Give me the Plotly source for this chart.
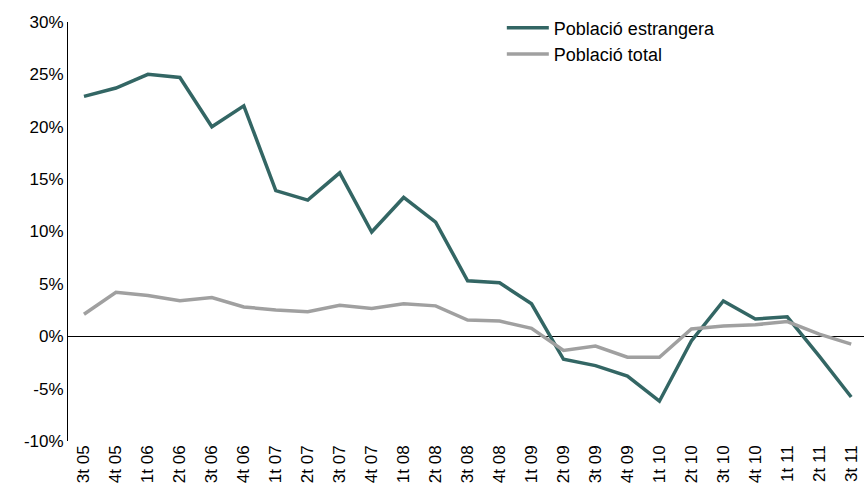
import plotly.graph_objects as go

categories = ["3t 05", "4t 05", "1t 06", "2t 06", "3t 06", "4t 06", "1t 07", "2t 07", "3t 07", "4t 07",
              "1t 08", "2t 08", "3t 08", "4t 08", "1t 09", "2t 09", "3t 09", "4t 09", "1t 10", "2t 10",
              "3t 10", "4t 10", "1t 11", "2t 11", "3t 11"]
estrangera = [22.9, 23.7, 25.0, 24.7, 20.0, 22.0, 13.9, 13.0, 15.6, 9.95,
              13.25, 10.9, 5.3, 5.1, 3.1, -2.2, -2.8, -3.8, -6.2, -0.45,
              3.37, 1.64, 1.85, -1.9, -5.8]
total = [2.1, 4.2, 3.9, 3.4, 3.7, 2.8, 2.5, 2.35, 2.95, 2.65,
         3.1, 2.9, 1.55, 1.45, 0.76, -1.35, -0.93, -2.0, -2.0, 0.7,
         0.98, 1.1, 1.4, 0.2, -0.75]
y_ticks = [-10, -5, 0, 5, 10, 15, 20, 25, 30]
y_ticktext = [f"{v}%" for v in y_ticks]

fig = go.Figure()
fig.add_trace(go.Scatter(x=list(range(len(categories))), y=estrangera, mode="lines",
                         name="Població estrangera", line=dict(color="#336664", width=3.5)))
fig.add_trace(go.Scatter(x=list(range(len(categories))), y=total, mode="lines",
                         name="Població total", line=dict(color="#A0A0A0", width=3.5)))

fig.update_layout(
    width=864, height=500,
    margin=dict(l=68, r=0, t=22, b=59),
    paper_bgcolor="white", plot_bgcolor="white",
    font=dict(family="Liberation Sans, Arial, sans-serif", color="#000000"),
    showlegend=True,
    legend=dict(x=0.545, y=1.03, xanchor="left", yanchor="top",
                font=dict(size=18), bgcolor="rgba(0,0,0,0)",
                tracegroupgap=0, itemwidth=42),
    xaxis=dict(tickmode="array", tickvals=list(range(len(categories))), ticktext=categories,
               range=[-0.5, 24.4], tickangle=-90, tickfont=dict(size=17), automargin=False,
               ticklabeloverflow="allow",
               showgrid=False, zeroline=False, showline=False, ticks=""),
    yaxis=dict(range=[-10, 30], tickmode="array", tickvals=y_ticks, ticktext=y_ticktext,
               tickfont=dict(size=17), showgrid=False, zeroline=True, zerolinecolor="#000000",
               zerolinewidth=1, showline=True, linecolor="#000000", linewidth=1, ticks="",
               automargin=False),
)

fig.write_html("out.html", config={"displayModeBar": False},
               post_script="document.body.style.margin='0';")
